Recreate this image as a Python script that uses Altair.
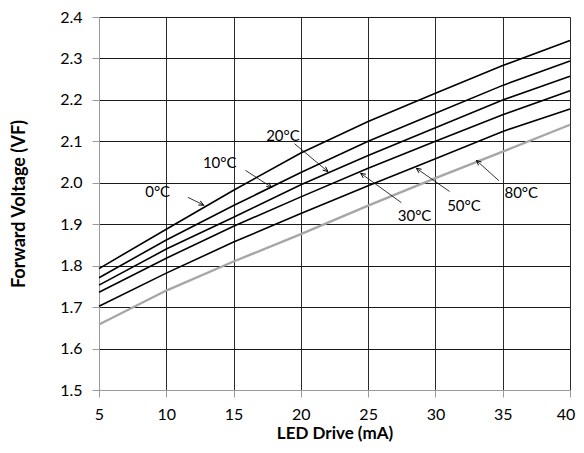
import math
import altair as alt
import pandas as pd

# ---------------- data ----------------
drive_ma = [5, 10, 15, 20, 25, 30, 35, 40]
vf_0c = [1.793, 1.888, 1.982, 2.072, 2.148, 2.216, 2.283, 2.343]
vf_10c = [1.771, 1.862, 1.945, 2.025, 2.100, 2.168, 2.235, 2.294]
vf_20c = [1.753, 1.840, 1.917, 1.995, 2.066, 2.133, 2.200, 2.257]
vf_30c = [1.736, 1.818, 1.895, 1.966, 2.035, 2.100, 2.164, 2.222]
vf_50c = [1.702, 1.782, 1.857, 1.926, 1.993, 2.058, 2.124, 2.178]
vf_80c = [1.658, 1.740, 1.810, 1.876, 1.945, 2.011, 2.075, 2.140]

black_series = {"0°C": vf_0c, "10°C": vf_10c, "20°C": vf_20c,
                "30°C": vf_30c, "50°C": vf_50c}
gray_series = {"80°C": vf_80c}

label_text = ["0°C", "10°C", "20°C", "30°C", "50°C", "80°C"]
label_x = [9.36, 13.97, 18.67, 28.45, 32.12, 36.38]
label_y = [1.978, 2.047, 2.114, 1.920, 1.943, 1.976]
arrow_x1 = [11.6, 15.88, 19.54, 27.47, 31.05, 34.72]
arrow_y1 = [1.965, 2.030, 2.094, 1.952, 1.979, 2.005]
arrow_x2 = [12.78, 17.83, 22.01, 24.44, 28.58, 33.04]
arrow_y2 = [1.946, 1.989, 2.027, 2.023, 2.035, 2.054]

x_ticks = [5, 10, 15, 20, 25, 30, 35, 40]
y_ticks = [1.5, 1.6, 1.7, 1.8, 1.9, 2.0, 2.1, 2.2, 2.3, 2.4]

# ---------------- layout ----------------
W, H = 471, 373
X_DOMAIN = [5, 40]
Y_DOMAIN = [1.5, 2.4]
FONT = "Lato"

def long_df(series):
    rows = []
    for name, vals in series.items():
        for xv, yv in zip(drive_ma, vals):
            rows.append({"series": name, "drive": xv, "vf": yv})
    return pd.DataFrame(rows)

df_black = long_df(black_series)
df_gray = long_df(gray_series)

# arrowhead rotation from the scales' pixel ratios
sx = W / (X_DOMAIN[1] - X_DOMAIN[0])
sy = H / (Y_DOMAIN[1] - Y_DOMAIN[0])
angles = []
for x1, y1, x2, y2 in zip(arrow_x1, arrow_y1, arrow_x2, arrow_y2):
    dx = (x2 - x1) * sx
    dy = -(y2 - y1) * sy
    angles.append(math.degrees(math.atan2(dx, -dy)) % 360)

df_ann = pd.DataFrame({
    "text": label_text, "lx": label_x, "ly": label_y,
    "ax1": arrow_x1, "ay1": arrow_y1, "ax2": arrow_x2, "ay2": arrow_y2,
    "angle": angles,
})

xscale = alt.Scale(domain=X_DOMAIN, nice=False, zero=False)
yscale = alt.Scale(domain=Y_DOMAIN, nice=False, zero=False)

x_axis = alt.Axis(
    values=x_ticks, title="LED Drive (mA)", grid=True,
    gridColor={"condition": {"test": "datum.value === 5", "value": "#9a9a9a"}, "value": "#2a2a2a"},
    gridWidth=1, domainColor="#9a9a9a", tickColor="#9a9a9a", tickSize=7,
    labelPadding=9, labelFontSize=16, labelFont=FONT, labelColor="black",
    labelOffset={"condition": {"test": "datum.value === 40", "value": -4.5}, "value": 0},
    titleFont=FONT, titleFontSize=17, titleFontWeight="bold", titleColor="black",
    titlePadding=3, labelFlush=False,
)
y_axis = alt.Axis(
    values=y_ticks, format=".1f", title="Forward Voltage (VF)", grid=True,
    gridColor={"condition": {"test": "datum.value === 1.5", "value": "#9a9a9a"}, "value": "#1a1a1a"},
    gridWidth=1, domainColor="#9a9a9a", tickColor="#9a9a9a", tickSize=7,
    labelPadding=10, labelFontSize=16, labelFont=FONT, labelColor="black",
    titleFont=FONT, titleFontSize=18, titleFontWeight="bold", titleColor="black",
    titlePadding=31,
)

def X(field):
    return alt.X(field, type="quantitative", scale=xscale, axis=x_axis)

def Y(field):
    return alt.Y(field, type="quantitative", scale=yscale, axis=y_axis)

black_lines = alt.Chart(df_black).mark_line(color="black", strokeWidth=1.6).encode(
    x=X("drive"), y=Y("vf"), detail="series:N",
)
gray_line = alt.Chart(df_gray).mark_line(color="#a6a6a6", strokeWidth=2.4).encode(
    x=X("drive"), y=Y("vf"),
)
shafts = alt.Chart(df_ann).mark_rule(color="black", strokeWidth=0.8).encode(
    x=X("ax1"), y=Y("ay1"), x2="ax2:Q", y2="ay2:Q",
)
heads = alt.Chart(df_ann).mark_point(
    shape="M -0.5 1.1 L 0 0 L 0.5 1.1", filled=False, size=80,
    strokeWidth=0.9, color="black", opacity=1,
).encode(
    x=X("ax2"), y=Y("ay2"),
    angle=alt.Angle("angle:Q", scale=None),
)
labels = alt.Chart(df_ann).mark_text(
    font=FONT, fontSize=15, color="black", align="center", baseline="middle",
).encode(
    x=X("lx"), y=Y("ly"), text="text:N",
)

chart = alt.layer(black_lines, gray_line, shafts, heads, labels).properties(
    width=W, height=H,
    autosize=alt.AutoSizeParams(type="none"),
    padding={"left": 91, "top": 9, "right": 6, "bottom": 55},
    background="white",
).configure_view(stroke=None)

chart.save("out.html", embed_options={"renderer": "svg", "actions": False})
